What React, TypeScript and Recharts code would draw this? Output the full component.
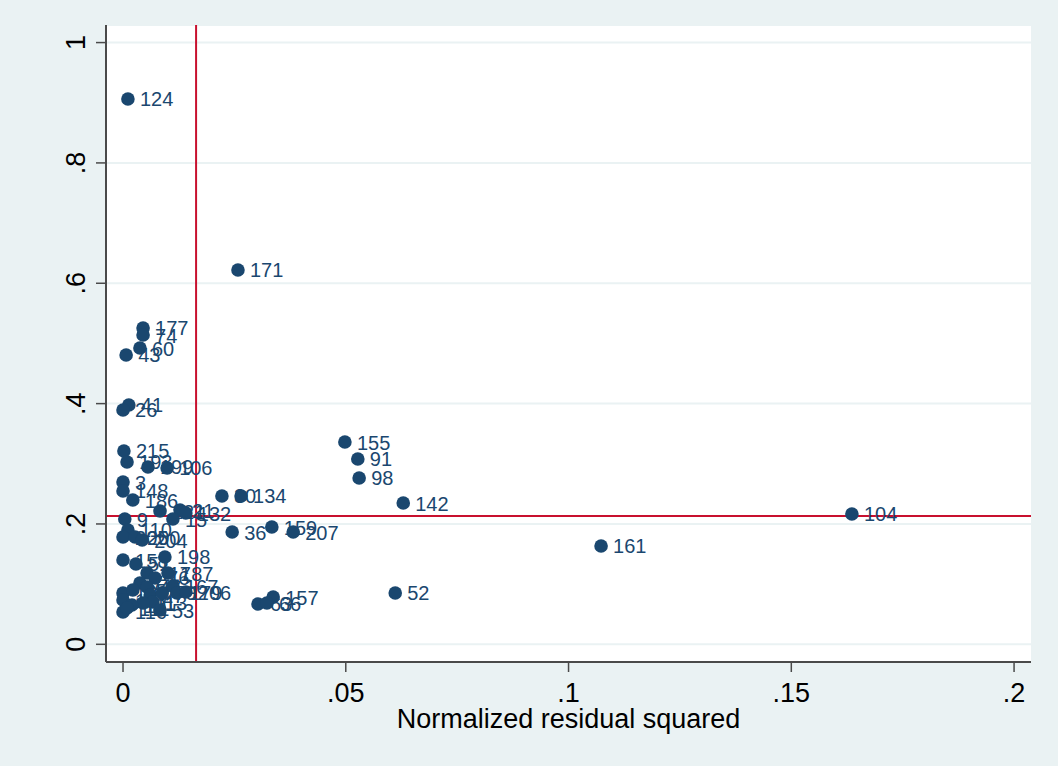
import { ScatterChart, Scatter, XAxis, YAxis, CartesianGrid, ReferenceLine, Label } from 'recharts';

// lvr2plot: leverage against normalized residual squared, 61 observations
const obsIds = [
  124, 171, 177, 74, 60, 43, 41, 26, 155, 91, 98, 142, 104, 161, 52, 30, 134, 36, 159, 207, 157, 63, 66,
  215, 193, 199, 106, 3, 148, 186, 121, 21, 132, 15, 9, 110, 205, 200, 204, 158, 51, 198, 117, 187, 76, 72,
  120, 18, 116, 85, 47, 27, 13, 70, 167, 179, 206, 53, 11, 19, 111,
];
const residSq = [
  0.0011, 0.0258, 0.0045, 0.0045, 0.0038, 0.0007, 0.0013, 0.0, 0.0498, 0.0527, 0.053, 0.0629, 0.1636, 0.1073,
  0.0611, 0.0222, 0.0265, 0.0245, 0.0334, 0.0382, 0.0337, 0.0303, 0.0323,
  0.0002, 0.0009, 0.0056, 0.0099, 0.0, 0.0, 0.0022, 0.0083, 0.0128, 0.0141, 0.0112, 0.0004, 0.0011, 0.0,
  0.0027, 0.0043, 0.0, 0.0029, 0.0094, 0.0054, 0.0101, 0.0072, 0.0038,
  0.0, 0.0, 0.0, 0.0022, 0.0054, 0.0061, 0.0067, 0.0088, 0.0112, 0.0121, 0.0141, 0.0083, 0.0045, 0.002, 0.0009,
];
const leverage = [
  0.9063, 0.6221, 0.5257, 0.514, 0.4924, 0.4808, 0.3977, 0.3894, 0.3362, 0.308, 0.2764, 0.2348, 0.2166, 0.1634,
  0.0853, 0.2465, 0.2465, 0.1866, 0.1949, 0.1866, 0.0786, 0.067, 0.0686,
  0.3213, 0.303, 0.2947, 0.293, 0.2697, 0.2548, 0.2398, 0.2215, 0.2232, 0.2182, 0.2082, 0.2082, 0.19, 0.1783,
  0.1783, 0.1733, 0.1401, 0.1335, 0.1451, 0.1185, 0.1185, 0.1102, 0.1019,
  0.0853, 0.0736, 0.0537, 0.0902, 0.0952, 0.0819, 0.0703, 0.0853, 0.0969, 0.0853, 0.0869, 0.057, 0.0686, 0.0653, 0.0603,
];
const xTicks = [0, 0.05, 0.1, 0.15, 0.2];
const yTicks = [0, 0.2, 0.4, 0.6, 0.8, 1];
const meanResidSq = 0.0164; // 1/n
const meanLeverage = 0.2131; // k/n

const data = obsIds.map((id, i) => ({ id, x: residSq[i], y: leverage[i] }));

const NAVY = '#1a476f';
const RED = '#c8102e';
const BG = '#eaf2f3';
const AXIS = '#4a4a4a';
const FONT = '"Liberation Sans", Arial, Helvetica, sans-serif';

const fmt = (v: number) => (v === 0 || v === 1 ? String(v) : String(v).replace(/^0/, ''));

function XTick({ x, y, payload }: any) {
  return (
    <text x={x} y={y + 28} textAnchor="middle" fontSize={27} fontFamily={FONT} fill="#000">
      {fmt(payload.value)}
    </text>
  );
}

function YTick({ x, y, payload }: any) {
  const bx = x - 9;
  return (
    <text x={bx} y={y} transform={`rotate(-90 ${bx} ${y})`} textAnchor="middle" fontSize={27} fontFamily={FONT} fill="#000">
      {fmt(payload.value)}
    </text>
  );
}

function Marker({ cx, cy, payload }: any) {
  return (
    <g>
      <circle cx={cx} cy={cy} r={6.8} fill={NAVY} />
      <text x={cx + 12} y={cy + 7.5} fontSize={20} fontFamily={FONT} fill={NAVY}>
        {payload.id}
      </text>
    </g>
  );
}

function XTitle({ viewBox }: any) {
  if (!viewBox) return null;
  return (
    <text x={viewBox.x + viewBox.width / 2} y={viewBox.y + 66} textAnchor="middle" fontSize={27} fontFamily={FONT} fill="#000">
      Normalized residual squared
    </text>
  );
}

export default function App() {
  return (
    <div style={{ position: 'absolute', left: 0, top: 0, width: 1058, height: 766, background: BG }}>
      <ScatterChart width={1058} height={766} margin={{ top: 25, right: 27, bottom: 0, left: 0 }}>
        <CartesianGrid vertical={false} fill="#ffffff" fillOpacity={1} stroke={BG} strokeWidth={2} />
        <XAxis
          type="number"
          dataKey="x"
          domain={[-0.00382, 0.2038]}
          allowDataOverflow
          ticks={xTicks}
          height={104}
          tickSize={10}
          tick={<XTick />}
          axisLine={{ stroke: AXIS, strokeWidth: 2 }}
          tickLine={{ stroke: AXIS, strokeWidth: 1.5 }}
        >
          <Label content={<XTitle />} />
        </XAxis>
        <YAxis
          type="number"
          dataKey="y"
          domain={[-0.0294, 1.0292]}
          allowDataOverflow
          ticks={yTicks}
          width={106}
          tickSize={10}
          tick={<YTick />}
          axisLine={{ stroke: AXIS, strokeWidth: 2 }}
          tickLine={{ stroke: AXIS, strokeWidth: 1.5 }}
        />
        <ReferenceLine x={meanResidSq} stroke={RED} strokeWidth={2} />
        <ReferenceLine y={meanLeverage} stroke={RED} strokeWidth={2} />
        <Scatter data={data} shape={<Marker />} isAnimationActive={false} />
      </ScatterChart>
    </div>
  );
}
